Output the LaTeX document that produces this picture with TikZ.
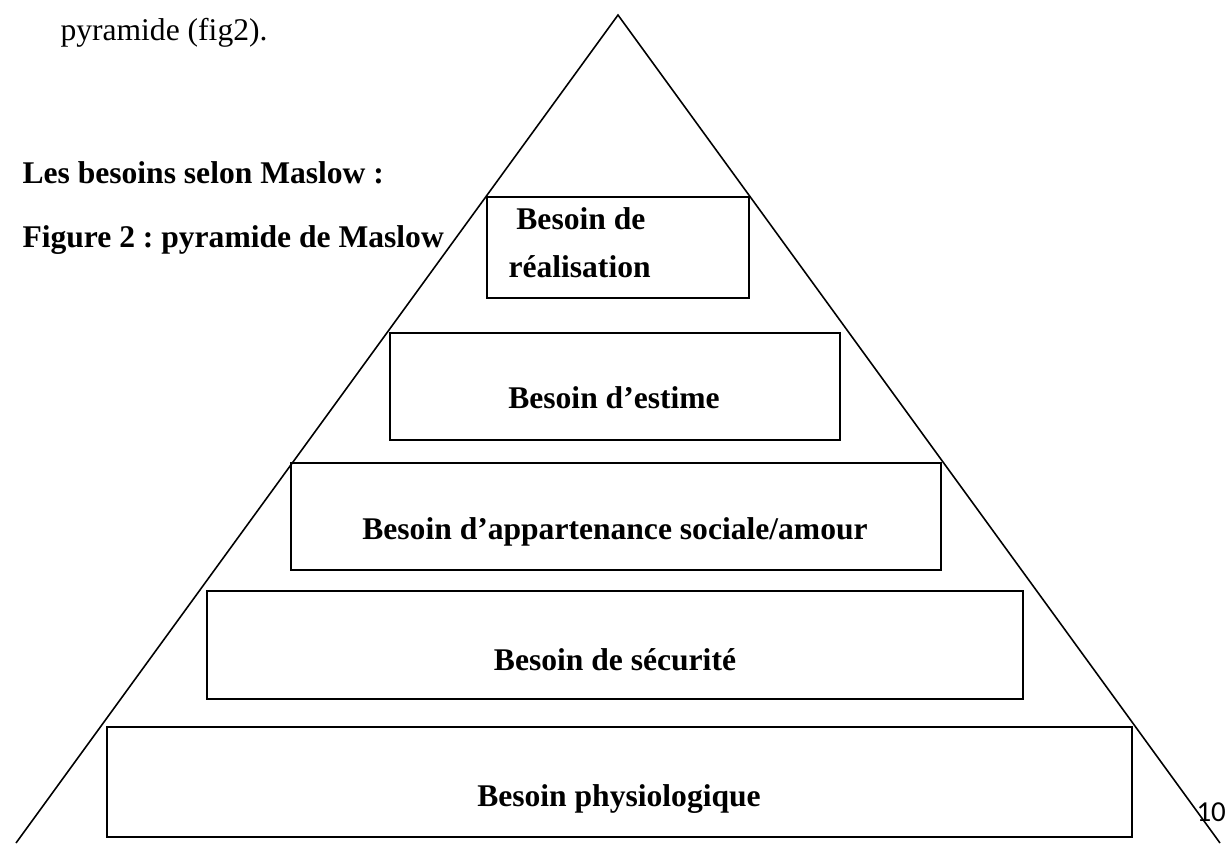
\documentclass[tikz,border=0pt]{standalone}
\usepackage{fontspec}
\setmainfont{Liberation Serif}
\newfontfamily\pagenumfont{Carlito}
\usepackage{tikz}
\usetikzlibrary{positioning,fit}
\frenchspacing
\tikzset{
  tierbox/.style={draw=black,line width=0.75pt,inner sep=0pt},
  side/.style={draw=black,line width=0.6pt},
  need/.style={font=\fontsize{12}{16.7}\selectfont\bfseries,inner sep=0pt},
  body/.style={font=\fontsize{12}{14}\selectfont,inner sep=0pt},
  heading/.style={font=\fontsize{12}{14}\selectfont\bfseries,inner sep=0pt},
  pagenum/.style={font=\pagenumfont\fontsize{11}{13}\selectfont,inner sep=0pt}
}

\begin{document}
\begin{tikzpicture}[x=0.38pt,y=-0.38pt]
  \useasboundingbox (0,0) rectangle (1231,843);
  % pyramide
  \coordinate (apex) at (618,15);
  \coordinate (baseL) at (16,843);
  \coordinate (baseR) at (1220,843);
  \draw[side] (baseL) -- (apex) -- (baseR);
  % niveaux
  \node[tierbox,fit={(487,197) (749,298)}] (n5) {};
  \node[tierbox,fit={(390,333) (840,440)}] (n4) {};
  \node[tierbox,fit={(291,463) (941,570)}] (n3) {};
  \node[tierbox,fit={(207,591) (1023,699)}] (n2) {};
  \node[tierbox,fit={(107,727) (1132,837)}] (n1) {};
  \node[need,anchor=base west,align=left] (t5) at (508,277) {\hspace*{0.25em}Besoin de\\[1.5pt]réalisation};
  \node[need,anchor=base] (t4) at (614,408) {Besoin d’estime};
  \node[need,anchor=base] (t3) at (615,539) {Besoin d’appartenance sociale/amour};
  \node[need,anchor=base] (t2) at (615,670) {Besoin de sécurité};
  \node[need,anchor=base] (t1) at (619,806) {Besoin physiologique};
  % textes autour
  \node[body,anchor=base west] (intro) at (60,40) {pyramide (fig2).};
  \node[heading,anchor=base west] (title) at (22,183) {Les besoins selon Maslow :};
  \node[heading,anchor=base west] (caption) at (22,247) {Figure 2 : pyramide de Maslow};
  \node[pagenum,anchor=base west] (page) at (1196,821) {10};
\end{tikzpicture}
\end{document}
